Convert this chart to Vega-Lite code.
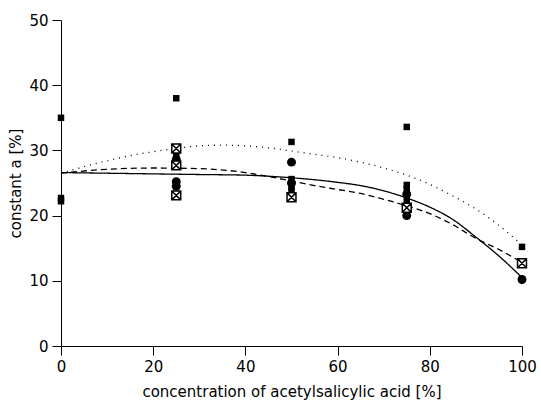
{
  "$schema": "https://vega.github.io/schema/vega-lite/v6.json",
  "width": 461,
  "height": 326,
  "autosize": "none",
  "padding": {"left": 61, "top": 20, "right": 19, "bottom": 60},
  "background": "white",
  "config": {
    "view": {"stroke": null},
    "font": "DejaVu Sans",
    "axis": {
      "grid": false,
      "domainColor": "black",
      "tickColor": "black",
      "labelColor": "black",
      "titleColor": "black",
      "labelFont": "DejaVu Sans",
      "titleFont": "DejaVu Sans",
      "labelFontSize": 15,
      "titleFontSize": 15,
      "titleFontWeight": "normal",
      "tickSize": 9,
      "labelPadding": 4,
      "labelFlush": false
    }
  },
  "datasets": {
    "curves": [
      {"x": 0, "y": 26.5, "fit": "dotted"}, {"x": 5, "y": 27.5, "fit": "dotted"}, {"x": 10, "y": 28.4, "fit": "dotted"}, {"x": 15, "y": 29.2, "fit": "dotted"}, {"x": 20, "y": 29.8, "fit": "dotted"}, {"x": 25, "y": 30.3, "fit": "dotted"}, {"x": 30, "y": 30.7, "fit": "dotted"}, {"x": 35, "y": 30.8, "fit": "dotted"}, {"x": 40, "y": 30.7, "fit": "dotted"}, {"x": 45, "y": 30.4, "fit": "dotted"}, {"x": 50, "y": 29.9, "fit": "dotted"}, {"x": 55, "y": 29.4, "fit": "dotted"}, {"x": 60, "y": 28.9, "fit": "dotted"}, {"x": 65, "y": 28.2, "fit": "dotted"}, {"x": 70, "y": 27.3, "fit": "dotted"}, {"x": 75, "y": 26.2, "fit": "dotted"}, {"x": 80, "y": 24.8, "fit": "dotted"}, {"x": 85, "y": 23.0, "fit": "dotted"}, {"x": 90, "y": 21.0, "fit": "dotted"}, {"x": 95, "y": 18.5, "fit": "dotted"}, {"x": 100, "y": 15.5, "fit": "dotted"},
      {"x": 0, "y": 26.6, "fit": "solid"}, {"x": 10, "y": 26.5, "fit": "solid"}, {"x": 20, "y": 26.4, "fit": "solid"}, {"x": 30, "y": 26.3, "fit": "solid"}, {"x": 40, "y": 26.2, "fit": "solid"}, {"x": 50, "y": 25.8, "fit": "solid"}, {"x": 55, "y": 25.5, "fit": "solid"}, {"x": 60, "y": 25.1, "fit": "solid"}, {"x": 65, "y": 24.6, "fit": "solid"}, {"x": 70, "y": 23.8, "fit": "solid"}, {"x": 75, "y": 22.7, "fit": "solid"}, {"x": 80, "y": 21.3, "fit": "solid"}, {"x": 85, "y": 19.4, "fit": "solid"}, {"x": 90, "y": 16.7, "fit": "solid"}, {"x": 95, "y": 13.8, "fit": "solid"}, {"x": 100, "y": 10.5, "fit": "solid"},
      {"x": 0, "y": 26.5, "fit": "dashed"}, {"x": 10, "y": 27.1, "fit": "dashed"}, {"x": 20, "y": 27.3, "fit": "dashed"}, {"x": 30, "y": 27.2, "fit": "dashed"}, {"x": 40, "y": 26.6, "fit": "dashed"}, {"x": 45, "y": 26.0, "fit": "dashed"}, {"x": 50, "y": 25.3, "fit": "dashed"}, {"x": 55, "y": 24.6, "fit": "dashed"}, {"x": 60, "y": 24.0, "fit": "dashed"}, {"x": 65, "y": 23.4, "fit": "dashed"}, {"x": 70, "y": 22.5, "fit": "dashed"}, {"x": 75, "y": 21.5, "fit": "dashed"}, {"x": 80, "y": 20.3, "fit": "dashed"}, {"x": 85, "y": 18.6, "fit": "dashed"}, {"x": 90, "y": 16.5, "fit": "dashed"}, {"x": 95, "y": 14.8, "fit": "dashed"}, {"x": 100, "y": 12.8, "fit": "dashed"}
    ],
    "pts": [
      {"x": 0, "y": 35.0, "type": "square"},
      {"x": 0, "y": 22.2, "type": "square"},
      {"x": 0, "y": 22.7, "type": "square"},
      {"x": 25, "y": 38.0, "type": "square"},
      {"x": 25, "y": 30.3, "type": "crossed"},
      {"x": 25, "y": 29.3, "type": "square"},
      {"x": 25, "y": 28.6, "type": "circle"},
      {"x": 25, "y": 27.7, "type": "crossed"},
      {"x": 25, "y": 25.2, "type": "circle"},
      {"x": 25, "y": 24.5, "type": "circle"},
      {"x": 25, "y": 23.1, "type": "crossed"},
      {"x": 50, "y": 31.3, "type": "square"},
      {"x": 50, "y": 28.2, "type": "circle"},
      {"x": 50, "y": 25.6, "type": "square"},
      {"x": 50, "y": 25.0, "type": "circle"},
      {"x": 50, "y": 24.4, "type": "square"},
      {"x": 50, "y": 23.8, "type": "square"},
      {"x": 50, "y": 22.8, "type": "crossed"},
      {"x": 75, "y": 33.6, "type": "square"},
      {"x": 75, "y": 24.7, "type": "square"},
      {"x": 75, "y": 24.0, "type": "square"},
      {"x": 75, "y": 23.3, "type": "circle"},
      {"x": 75, "y": 22.4, "type": "square"},
      {"x": 75, "y": 21.2, "type": "crossed"},
      {"x": 75, "y": 20.0, "type": "circle"},
      {"x": 100, "y": 15.2, "type": "square"},
      {"x": 100, "y": 12.7, "type": "crossed"},
      {"x": 100, "y": 10.2, "type": "circle"}
    ]
  },
  "layer": [
    {
      "data": {"name": "curves"},
      "mark": {"type": "line", "color": "black", "interpolate": "monotone", "strokeWidth": 1.3},
      "encoding": {
        "x": {"field": "x", "type": "quantitative", "scale": {"domain": [0, 100], "nice": false}, "axis": {"values": [0, 20, 40, 60, 80, 100], "title": "concentration of acetylsalicylic acid [%]", "titlePadding": 10}},
        "y": {"field": "y", "type": "quantitative", "scale": {"domain": [0, 50], "nice": false}, "axis": {"values": [0, 10, 20, 30, 40, 50], "title": "constant a [%]", "titlePadding": 5}},
        "detail": {"field": "fit"},
        "strokeDash": {"field": "fit", "type": "nominal", "scale": {"domain": ["solid", "dashed", "dotted"], "range": [[1, 0], [6, 4], [1, 5]]}, "legend": null}
      }
    },
    {
      "data": {"name": "pts"},
      "transform": [{"filter": "datum.type !== 'crossed'"}],
      "mark": {"type": "point", "filled": true, "color": "black", "opacity": 1},
      "encoding": {
        "x": {"field": "x", "type": "quantitative"},
        "y": {"field": "y", "type": "quantitative"},
        "shape": {"field": "type", "type": "nominal", "scale": {"domain": ["square", "circle"], "range": ["square", "circle"]}, "legend": null},
        "size": {"field": "type", "type": "nominal", "scale": {"domain": ["square", "circle"], "range": [42, 80]}, "legend": null}
      }
    },
    {
      "data": {"name": "pts"},
      "transform": [{"filter": "datum.type === 'crossed'"}],
      "mark": {"type": "point", "shape": "M-1,-1L1,-1L1,1L-1,1Z M-1,-1L1,1 M1,-1L-1,1", "fill": "white", "stroke": "black", "strokeWidth": 1.5, "size": 80, "opacity": 1, "fillOpacity": 1},
      "encoding": {
        "x": {"field": "x", "type": "quantitative"},
        "y": {"field": "y", "type": "quantitative"}
      }
    }
  ]
}
